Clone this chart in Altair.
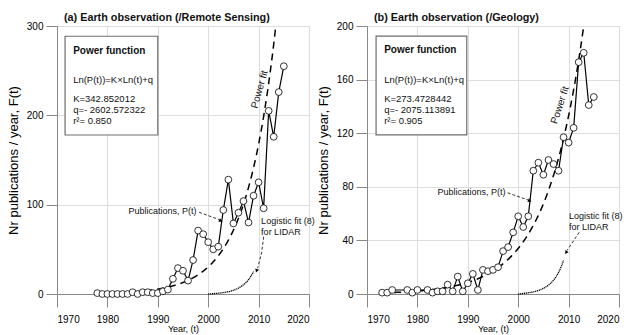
import altair as alt
import numpy as np
import pandas as pd

FONT = "Liberation Sans"
AXIS_GREY = "#8a8a8a"

# ---- (a) Remote Sensing: publications per year ----
rs_years = list(range(1978, 2016))
rs_pubs = [1, 0, 0, 0, 0, 0, 0, 2, 0, 2, 2, 1, 1, 3, 5,
           17, 29, 26, 15, 38, 71, 67, 58, 50, 53,
           94, 128, 79, 91, 104, 80, 110, 125, 96, 205,
           176, 226, 255]
rs_K = 342.852012
rs_q = -2602.572322
rs_r2 = "0.850"

# ---- (b) Geology: publications per year ----
geo_years = [1973, 1974, 1975, 1978, 1979, 1980, 1982, 1983, 1984, 1985,
             1986, 1987, 1988, 1989, 1990, 1991, 1992, 1993, 1994, 1995,
             1996, 1997, 1998, 1999, 2000, 2001, 2002, 2003, 2004, 2005,
             2006, 2007, 2008, 2009, 2010, 2011, 2012, 2013, 2014, 2015]
geo_pubs = [1, 1, 3, 3, 1, 3, 3, 1, 2, 2,
            7, 2, 13, 2, 8, 15, 3, 18, 17, 18,
            20, 32, 35, 46, 58, 50, 58, 92, 98, 89,
            100, 97, 92, 117, 113, 124, 173, 180, 141, 147]
geo_K = 273.4728442
geo_q = -2075.113891
geo_r2 = "0.905"

# ---- logistic fit (8) for LIDAR ----
lidar_years = [2000, 2001, 2002, 2003, 2004, 2005, 2006, 2007, 2008, 2009]
lidar_fit = [0, 0.4, 0.9, 1.6, 2.6, 4.2, 6.6, 10.3, 16, 25]

x_ticks = [1970, 1980, 1990, 2000, 2010, 2020]


def power_curve(K, q, start, ymax):
    # Ln(P(t)) = K*Ln(t) + q, sampled until it leaves the plot
    t = np.arange(start, 2020.001, 0.05)
    p = np.exp(K * np.log(t) + q)
    keep = np.concatenate([[True], p[:-1] <= ymax])
    return pd.DataFrame({"year": t[keep], "value": p[keep]})


def text_layer(df, **kw):
    base = dict(font=FONT, color="#111111", baseline="middle")
    base.update(kw)
    return alt.Chart(df).mark_text(**base).encode(
        x=alt.X("year:Q"), y=alt.Y("value:Q"), text="label:N")


def panel(title, years, pubs, K, q, r2, ymax, y_ticks, fit_start, notes):
    xs = alt.Scale(domain=[1970, 2020], nice=False, zero=False)
    ys = alt.Scale(domain=[0, ymax], nice=False)
    x_enc = alt.X("year:Q", scale=xs, axis=alt.Axis(
        values=x_ticks, format="d", title="Year, (t)", titleFontSize=9,
        titleFontWeight="normal", titlePadding=0, tickSize=13,
        labelPadding=7))
    y_enc = alt.Y("value:Q", scale=ys, axis=alt.Axis(
        values=y_ticks, format="d", title="Nr publications / year, F(t)",
        titleFontSize=13, titleFontWeight="normal", titlePadding=6,
        tickSize=11, labelPadding=3))

    pubs_df = pd.DataFrame({"year": years, "value": pubs})
    fit_df = power_curve(K, q, fit_start, ymax)
    lidar_df = pd.DataFrame({"year": lidar_years, "value": lidar_fit})

    fit = alt.Chart(fit_df).mark_line(
        color="black", strokeWidth=1.5, strokeDash=[7, 5], clip=True
    ).encode(x=x_enc, y=y_enc)
    lidar = alt.Chart(lidar_df).mark_line(
        color="black", strokeWidth=1.3, strokeDash=[1.2, 0.7],
        interpolate="monotone").encode(x="year:Q", y="value:Q")
    line = alt.Chart(pubs_df).mark_line(color="black", strokeWidth=1.2).encode(
        x="year:Q", y="value:Q")
    dots = alt.Chart(pubs_df).mark_point(
        shape="circle", size=46, filled=True, fill="white",
        stroke="black", strokeWidth=0.8, opacity=1).encode(
        x="year:Q", y="value:Q")

    # statistics box
    bx = notes["box"]
    box = alt.Chart(pd.DataFrame([bx])).mark_rect(
        fill="white", stroke="#6e6e6e", strokeWidth=1.2).encode(
        x="x0:Q", x2="x1:Q", y="y0:Q", y2="y1:Q")
    tx = notes["box_text_x"]
    head = text_layer(pd.DataFrame([{"year": tx, "value": notes["box_rows"][0],
                                     "label": "Power function"}]),
                      align="left", fontSize=10, fontWeight="bold")
    rows = pd.DataFrame({
        "year": [tx] * 4,
        "value": notes["box_rows"][1:],
        "label": ["Ln(P(t))=K×Ln(t)+q", f"K={K}", f"q=- {abs(q):.6f}",
                  f"r²= {r2}"],
    })
    body = text_layer(rows, align="left", fontSize=9.5)

    pub_lbl = text_layer(pd.DataFrame([{**notes["pub_label"],
                                        "label": "Publications, P(t)"}]),
                         align="right", fontSize=9)
    logi_lbl = text_layer(pd.DataFrame([
        {**notes["logi_label"], "label": "Logistic fit (8)"},
        {"year": notes["logi_label"]["year"],
         "value": notes["logi_label"]["value"] - notes["logi_gap"],
         "label": "for LIDAR"}]), align="left", fontSize=9)
    pw = notes["power_label"]
    pow_lbl = text_layer(pd.DataFrame([{"year": pw["year"], "value": pw["value"],
                                        "label": "Power fit"}]),
                         align="center", fontSize=10, angle=pw["angle"])

    leaders = pd.DataFrame(notes["leaders"])
    lead = alt.Chart(leaders).mark_line(
        color="black", strokeWidth=0.8, strokeDash=[3, 2]).encode(
        x="year:Q", y="value:Q", detail="seg:N", order="k:Q")
    heads = pd.DataFrame(notes["heads"])
    tips = alt.Chart(heads).mark_point(
        shape="triangle-up", filled=True, color="black", size=16,
        opacity=1).encode(x="year:Q", y="value:Q",
                          angle=alt.Angle("angle:Q", scale=None))

    return alt.layer(
        fit, lidar, line, dots, box, head, body,
        pub_lbl, logi_lbl, pow_lbl, lead, tips
    ).properties(
        width=252, height=268,
        title=alt.TitleParams(title, anchor="start", frame="group",
                              fontSize=10.8, fontWeight="bold", font=FONT,
                              dx=7, offset=-2, color="#111111"))


rs_notes = {
    "box": {"x0": 1971.6, "x1": 1990.0, "y0": 178, "y1": 288.5},
    "box_text_x": 1973.2,
    "box_rows": [272, 240, 218, 206, 194],
    "pub_label": {"year": 1997.7, "value": 93},
    "logi_label": {"year": 2010.5, "value": 82},
    "logi_gap": 12.5,
    "power_label": {"year": 2010.2, "value": 229, "angle": 286},
    "leaders": [
        {"seg": "a", "k": 0, "year": 1998.2, "value": 91.5},
        {"seg": "a", "k": 1, "year": 2002.3, "value": 83},
        {"seg": "b", "k": 0, "year": 2011.0, "value": 64},
        {"seg": "b", "k": 1, "year": 2010.6, "value": 46},
        {"seg": "b", "k": 2, "year": 2009.8, "value": 29},
    ],
    "heads": [
        {"year": 2002.5, "value": 82, "angle": 112},
        {"year": 2009.6, "value": 26, "angle": 200},
    ],
}

geo_notes = {
    "box": {"x0": 1971.8, "x1": 1989.8, "y0": 118.7, "y1": 192.5},
    "box_text_x": 1973.4,
    "box_rows": [182, 160, 145.5, 137.3, 129.1],
    "pub_label": {"year": 1997.5, "value": 76},
    "logi_label": {"year": 2010.1, "value": 58},
    "logi_gap": 8.3,
    "power_label": {"year": 2008.3, "value": 141, "angle": 288},
    "leaders": [
        {"seg": "a", "k": 0, "year": 1997.9, "value": 75.5},
        {"seg": "a", "k": 1, "year": 2002.1, "value": 70},
        {"seg": "b", "k": 0, "year": 2012.1, "value": 46},
        {"seg": "b", "k": 1, "year": 2009.7, "value": 32.5},
    ],
    "heads": [
        {"year": 2002.3, "value": 69.5, "angle": 112},
        {"year": 2009.5, "value": 31, "angle": 215},
    ],
}

left = panel("(a) Earth observation (/Remote Sensing)", rs_years, rs_pubs,
             rs_K, rs_q, rs_r2, 300, [0, 100, 200, 300], 1978, rs_notes)
right = panel("(b) Earth observation (/Geology)", geo_years, geo_pubs,
              geo_K, geo_q, geo_r2, 200, [0, 40, 80, 120, 160, 200], 1973,
              geo_notes)

chart = alt.hconcat(left, right, spacing=0).properties(
    padding={"left": 6, "top": 11, "right": 0, "bottom": 0}
).configure_view(stroke=None).configure_axis(
    grid=False, domainColor=AXIS_GREY, tickColor=AXIS_GREY, domainWidth=1.5,
    tickWidth=1.3, labelFont=FONT, titleFont=FONT, labelFontSize=10,
    labelColor="#111111", titleColor="#111111"
).configure(background="white")

chart.save("out.html", embed_options={"renderer": "svg", "actions": False})
